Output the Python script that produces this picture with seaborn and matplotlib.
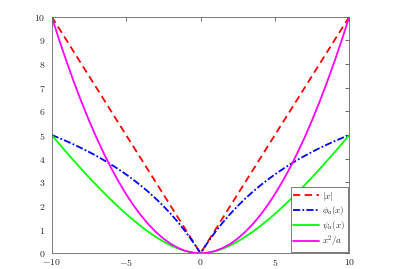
import numpy as np
import pandas as pd
import seaborn as sns
import matplotlib
matplotlib.use('Agg')
import matplotlib.pyplot as plt

x_vals = [-10, -9.5, -9, -8.5, -8, -7.5, -7, -6.5, -6, -5.5, -5, -4.5, -4, -3.5, -3, -2.5,
          -2, -1.5, -1, -0.5, 0, 0.5, 1, 1.5, 2, 2.5, 3, 3.5, 4, 4.5, 5, 5.5, 6, 6.5,
          7, 7.5, 8, 8.5, 9, 9.5, 10]
abs_vals = [10, 9.5, 9, 8.5, 8, 7.5, 7, 6.5, 6, 5.5, 5, 4.5, 4, 3.5, 3, 2.5, 2, 1.5, 1, 0.5, 0,
            0.5, 1, 1.5, 2, 2.5, 3, 3.5, 4, 4.5, 5, 5.5, 6, 6.5, 7, 7.5, 8, 8.5, 9, 9.5, 10]
phi_half = [0.0, 0.476, 0.909, 1.304, 1.667, 2.0, 2.308, 2.593, 2.857, 3.103, 3.333,
            3.548, 3.75, 3.939, 4.118, 4.286, 4.444, 4.595, 4.737, 4.872, 5.0]
psi_half = [0.0, 0.024, 0.091, 0.196, 0.333, 0.5, 0.692, 0.907, 1.143, 1.397, 1.667,
            1.952, 2.25, 2.561, 2.882, 3.214, 3.556, 3.905, 4.263, 4.628, 5.0]
quad_half = [0.0, 0.025, 0.1, 0.225, 0.4, 0.625, 0.9, 1.225, 1.6, 2.025, 2.5,
             3.025, 3.6, 4.225, 4.9, 5.625, 6.4, 7.225, 8.1, 9.025, 10.0]
# the curves are even, so the left half mirrors the right half
phi_vals = phi_half[::-1] + phi_half[1:]
psi_vals = psi_half[::-1] + psi_half[1:]
quad_vals = quad_half[::-1] + quad_half[1:]
labels = [r'$|x|$', r'$\phi_a(x)$', r'$\psi_a(x)$', r'$x^2/a$']

sns.set_style('white')
plt.rcParams['font.family'] = ['DejaVu Serif']
plt.rcParams['mathtext.fontset'] = 'cm'

fig = plt.figure(figsize=(4.09, 2.69), dpi=100)
ax = fig.add_axes([51.7 / 409, 1 - 253.3 / 269, (349.3 - 51.7) / 409, (253.3 - 16.7) / 269])

sns.lineplot(x=x_vals, y=abs_vals, ax=ax, color=(1, 0, 0), lw=1.3, label=labels[0])
sns.lineplot(x=x_vals, y=phi_vals, ax=ax, color=(0, 0, 1), lw=1.3, label=labels[1])
sns.lineplot(x=x_vals, y=psi_vals, ax=ax, color=(0, 1, 0), lw=1.3, label=labels[2])
sns.lineplot(x=x_vals, y=quad_vals, ax=ax, color=(1, 0, 1), lw=1.3, label=labels[3])
ax.lines[0].set_dashes([4, 2.5])
ax.lines[1].set_dashes([4, 1.2, 1, 1.2])

ax.set_xlim(-10, 10)
ax.set_ylim(0, 10)
ax.set_xticks([-10, -5, 0, 5, 10])
ax.set_xticklabels([r'$-10$', r'$-5$', r'$0$', r'$5$', r'$10$'])
ax.set_yticks(range(11))
ax.set_yticklabels([r'$%d$' % v for v in range(11)])
ax.tick_params(direction='in', length=3, width=0.6, colors='0.3', labelsize=7,
               top=True, right=True, labelcolor='0.15')
ax.tick_params(axis='y', pad=4.5)
ax.tick_params(axis='x', pad=3)
for s in ax.spines.values():
    s.set_color('0.4')
    s.set_linewidth(0.6)

leg = ax.legend(loc='lower right', fontsize=6.5, frameon=True, fancybox=False,
                edgecolor='0.4', framealpha=1, handlelength=2.8, borderpad=0.3,
                labelspacing=0.2, handletextpad=0.4, borderaxespad=0.15)
leg.get_frame().set_linewidth(0.6)
for t in leg.get_texts():
    t.set_ha('right')

fig.savefig('out.png', dpi=100)
